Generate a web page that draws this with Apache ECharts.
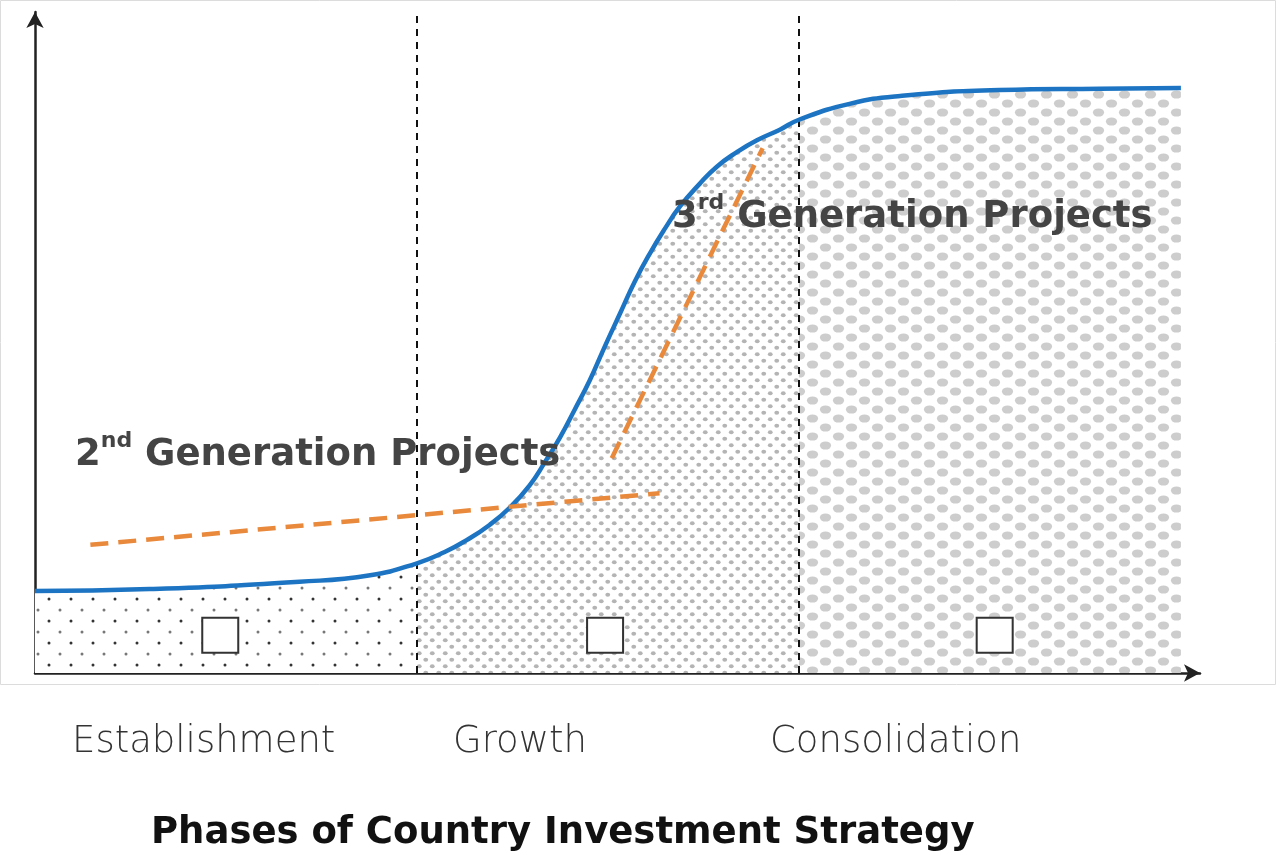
<!DOCTYPE html>
<html>
<head>
<meta charset="utf-8">
<script src="https://cdn.jsdelivr.net/npm/echarts@6/dist/echarts.min.js"></script>
<style>
html,body{margin:0;padding:0;background:#fff;}
#chart{width:1281px;height:855px;}
</style>
</head>
<body>
<div id="chart"></div>
<script>
// ---- data ----
var curveX = [0, 1.2, 2.77, 3.51, 4.0, 4.29, 4.52, 4.76, 4.97, 5.18, 5.34, 5.50, 5.65, 5.81, 5.97, 6.13, 6.28, 6.44, 6.60, 6.75, 6.96, 7.14, 7.35, 7.56, 7.80, 8.0, 8.53, 9.06, 10.1, 11.15, 12.0];
var curveY = [12.4, 12.7, 13.8, 14.8, 16.6, 18.3, 20.1, 22.4, 25.0, 28.4, 31.9, 35.7, 39.8, 44.3, 49.5, 54.5, 59.2, 63.5, 67.3, 70.5, 74.0, 76.6, 78.8, 80.6, 82.2, 83.7, 86.1, 87.3, 88.2, 88.4, 88.5];
var phaseNames = ['Establishment', 'Growth', 'Consolidation'];
var phaseBounds = [0, 4, 8, 12];
var secondGenLine = [[0.58, 19.4], [6.54, 27.2]];
var thirdGenLine = [[6.04, 32.5], [7.62, 79.4]];
var markerX = [1.94, 5.97, 10.05];
var markerY = [5.7, 5.7, 5.7];
var titleText = 'Phases of Country Investment Strategy';

// ---- patterns ----
function makePattern(w, h, draw) {
  var c = document.createElement('canvas');
  c.width = w; c.height = h;
  var ctx = c.getContext('2d');
  ctx.fillStyle = '#ffffff';
  ctx.fillRect(0, 0, w, h);
  draw(ctx);
  return c;
}
function dot(ctx, x, y, rx, ry, col) {
  ctx.fillStyle = col;
  ctx.beginPath();
  ctx.ellipse(x, y, rx, ry, 0, 0, Math.PI * 2);
  ctx.fill();
}
var patEst = makePattern(22, 22, function (ctx) {
  dot(ctx, 5, 5, 1.5, 1.5, '#333');
  dot(ctx, 16, 16, 1.5, 1.5, '#777');
});
var patGrowth = makePattern(13, 13, function (ctx) {
  dot(ctx, 3.25, 3.25, 2.4, 2.0, '#b4b4b4');
  dot(ctx, 9.75, 9.75, 2.4, 2.0, '#b4b4b4');
});
var patCons = makePattern(26, 18, function (ctx) {
  dot(ctx, 6.5, 4.5, 5.6, 4.1, '#cdcdcd');
  dot(ctx, 19.5, 13.5, 5.6, 4.1, '#cdcdcd');
});
var patterns = [patEst, patGrowth, patCons];

// ---- build series ----
var curve = curveX.map(function (x, i) { return [x, curveY[i]]; });
var series = [];
phaseNames.forEach(function (name, k) {
  var seg = curve.filter(function (p) { return p[0] >= phaseBounds[k] && p[0] <= phaseBounds[k + 1]; });
  series.push({
    name: name,
    type: 'line',
    data: seg,
    smooth: 0.5,
    symbol: 'none',
    lineStyle: { width: 0, opacity: 0 },
    areaStyle: { color: { image: patterns[k], repeat: 'repeat' }, opacity: 1 },
    z: 1,
    silent: true
  });
});
series.push({
  name: 'phaseDividers',
  type: 'line',
  data: [],
  markLine: {
    silent: true,
    symbol: ['none', 'none'],
    label: { show: false },
    lineStyle: { color: '#111', width: 2, type: [7, 6] },
    data: [{ xAxis: phaseBounds[1] }, { xAxis: phaseBounds[2] }]
  },
  z: 3
});
series.push({
  name: 'curve',
  type: 'line',
  data: curve,
  smooth: 0.5,
  symbol: 'none',
  lineStyle: { color: '#1c74c2', width: 4.5 },
  z: 5
});
[secondGenLine, thirdGenLine].forEach(function (ln) {
  series.push({
    type: 'line',
    data: ln,
    symbol: 'none',
    lineStyle: { color: '#e9893c', width: 4.5, type: [18, 10] },
    z: 6
  });
});
series.push({
  type: 'scatter',
  data: markerX.map(function (x, i) { return [x, markerY[i]]; }),
  symbol: 'rect',
  symbolSize: [36, 35],
  itemStyle: { color: '#fff', borderColor: '#333', borderWidth: 2, opacity: 1 },
  z: 7
});

var chart = echarts.init(document.getElementById('chart'), null, { renderer: 'canvas' });
var boldFont = '"DejaVu Sans", sans-serif';
var lightFont = '"DejaVu Sans", sans-serif';
var richLabel = {
  b: { fontFamily: boldFont, fontWeight: 'bold', fontSize: 37, fill: '#444', lineHeight: 46, verticalAlign: 'bottom' },
  s: { fontFamily: boldFont, fontWeight: 'bold', fontSize: 22, fill: '#444', lineHeight: 46, verticalAlign: 'top', padding: [2, 0, 0, 0] }
};
chart.setOption({
  animation: false,
  backgroundColor: '#fff',
  title: {
    text: titleText,
    left: 146,
    top: 810,
    textStyle: { fontFamily: boldFont, fontWeight: 'bold', fontSize: 37, color: '#111' }
  },
  grid: { left: 35, top: 12, width: 1165, height: 661 },
  xAxis: {
    type: 'value', min: 0, max: 12.2,
    axisLine: { show: true, lineStyle: { color: '#222', width: 2.5 }, symbol: ['none', 'arrow'], symbolSize: [13, 16] },
    axisTick: { show: false }, axisLabel: { show: false }, splitLine: { show: false }
  },
  yAxis: {
    type: 'value', min: 0, max: 100,
    axisLine: { show: true, lineStyle: { color: '#222', width: 2.5 }, symbol: ['none', 'arrow'], symbolSize: [13, 16] },
    axisTick: { show: false }, axisLabel: { show: false }, splitLine: { show: false }
  },
  graphic: [
    { type: 'rect', left: -2, top: -2, shape: { width: 1275, height: 684 }, style: { fill: 'none', stroke: '#dcdcdc', lineWidth: 1 }, z: 0, silent: true },
    { type: 'text', left: 75, top: 428, z: 20, style: { text: '{b|2}{s|nd}{b| Generation Projects}', rich: richLabel } },
    { type: 'text', left: 672, top: 190, z: 20, style: { text: '{b|3}{s|rd}{b| Generation Projects}', rich: richLabel } },
    { type: 'text', left: 72, top: 724, style: { text: phaseNames[0], font: '200 37px ' + lightFont, fill: '#333' } },
    { type: 'text', left: 453, top: 724, style: { text: phaseNames[1], font: '200 37px ' + lightFont, fill: '#333' } },
    { type: 'text', left: 770, top: 724, style: { text: phaseNames[2], font: '200 37px ' + lightFont, fill: '#333' } }
  ],
  series: series
});
</script>
</body>
</html>
